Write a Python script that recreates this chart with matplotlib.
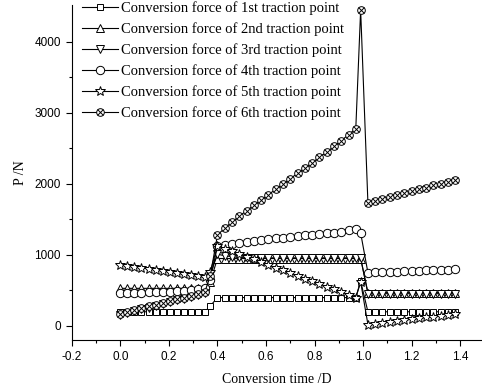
import numpy as np
import matplotlib
matplotlib.use('Agg')
import matplotlib.pyplot as plt
from matplotlib.legend_handler import HandlerTuple

# conversion time (D), shared by all six traction points
time_d = [0.000, 0.029, 0.058, 0.087, 0.116, 0.145, 0.174, 0.203, 0.232, 0.261, 0.290, 0.319, 0.348,
          0.37,
          0.40, 0.43, 0.46, 0.49, 0.52, 0.55, 0.58, 0.61, 0.64, 0.67, 0.70, 0.73, 0.76, 0.79, 0.82,
          0.85, 0.88, 0.91, 0.94, 0.97,
          0.99,
          1.02, 1.05, 1.08, 1.11, 1.14, 1.17, 1.20, 1.23, 1.26, 1.29, 1.32, 1.35, 1.38]

p1 = [200] * 13 + [280] + [400] * 20 + [630] + [200] * 13
p2 = [530] * 13 + [620] + [950] * 20 + [950] + [470] * 13
p3 = [160, 185, 210, 235, 260, 285, 310, 335, 360, 385, 410, 440, 470] + [720] + \
     [1010, 990, 975, 965, 960, 960, 960, 960, 960, 960, 960, 960, 960, 960, 960, 960, 960, 960, 960, 960] + \
     [960] + [455] * 13
p4 = [460, 462, 465, 468, 472, 476, 480, 485, 490, 497, 505, 515, 530] + [650] + \
     [1120, 1140, 1155, 1170, 1185, 1198, 1210, 1222, 1233, 1244, 1255, 1265, 1275, 1285, 1295,
      1305, 1315, 1328, 1345, 1370] + [1310] + \
     [750, 754, 758, 762, 766, 770, 775, 779, 783, 787, 791, 795, 800]
p5 = [860, 850, 835, 820, 805, 790, 775, 760, 745, 730, 715, 700, 685] + [760] + \
     [1130, 1090, 1050, 1015, 975, 940, 900, 860, 820, 785, 745, 705, 665, 630, 590, 555, 515,
      475, 440, 400] + [620] + \
     [20, 32, 45, 57, 70, 82, 95, 107, 120, 132, 145, 157, 170]
p6 = [175, 200, 225, 250, 275, 300, 325, 350, 375, 400, 425, 450, 480] + [700] + \
     [1280, 1380, 1465, 1545, 1625, 1700, 1775, 1850, 1925, 2000, 2075, 2150, 2225, 2300, 2375,
      2450, 2530, 2610, 2695, 2780] + [4450] + \
     [1730, 1760, 1790, 1815, 1840, 1870, 1895, 1925, 1950, 1980, 2005, 2035, 2060]

labels = ['Conversion force of 1st traction point',
          'Conversion force of 2nd traction point',
          'Conversion force of 3rd traction point',
          'Conversion force of 4th traction point',
          'Conversion force of 5th traction point',
          'Conversion force of 6th traction point']

fig = plt.figure(figsize=(4.82, 3.91), dpi=100)
ax = fig.add_axes([0.149, 0.130, 0.851, 0.857])

style = dict(color='black', lw=0.8, markerfacecolor='white', markeredgecolor='black',
             markeredgewidth=0.7)
h1, = ax.plot(time_d, p1, marker='s', ms=5, **style)
h2, = ax.plot(time_d, p2, marker='^', ms=5.5, **style)
h3, = ax.plot(time_d, p3, marker='v', ms=5.5, **style)
h4, = ax.plot(time_d, p4, marker='o', ms=6, **style)
h5, = ax.plot(time_d, p5, marker='*', ms=7, **style)
h6, = ax.plot(time_d, p6, marker='o', ms=5.5, **style)
h6x, = ax.plot(time_d, p6, ls='none', marker='x', ms=4, color='black', markeredgewidth=0.7)

leg = ax.legend([h1, h2, h3, h4, h5, (h6, h6x)], labels,
                handler_map={tuple: HandlerTuple(ndivide=1, pad=0)},
                loc='upper left', bbox_to_anchor=(0.01, 1.03), frameon=False,
                prop={'family': 'Liberation Serif', 'size': 10.5},
                handlelength=2.5, handletextpad=0.2, labelspacing=0.5, borderaxespad=0)

ax.set_xlim(-0.2, 1.49)
ax.set_ylim(-200, 4520)
ax.set_xticks([-0.2, 0.0, 0.2, 0.4, 0.6, 0.8, 1.0, 1.2, 1.4])
ax.set_xticklabels(['-0.2', '0.0', '0.2', '0.4', '0.6', '0.8', '1.0', '1.2', '1.4'])
ax.set_xticks(np.arange(-0.1, 1.5, 0.2), minor=True)
ax.set_yticks([0, 1000, 2000, 3000, 4000])
ax.set_yticks([500, 1500, 2500, 3500], minor=True)

for s in ['top', 'right']:
    ax.spines[s].set_visible(False)
ax.spines['left'].set_linewidth(0.8)
ax.spines['bottom'].set_linewidth(0.8)
ax.tick_params(which='major', direction='out', length=4.5, width=0.8, labelsize=8.5,
               labelfontfamily='Liberation Sans')
ax.tick_params(which='minor', direction='out', length=2.5, width=0.8)

ax.set_xlabel('Conversion time /D', family='Liberation Serif', fontsize=10, labelpad=7)
ax.set_ylabel('P /N', family='Liberation Serif', fontsize=10, labelpad=5)

fig.savefig('out.png', dpi=100)
